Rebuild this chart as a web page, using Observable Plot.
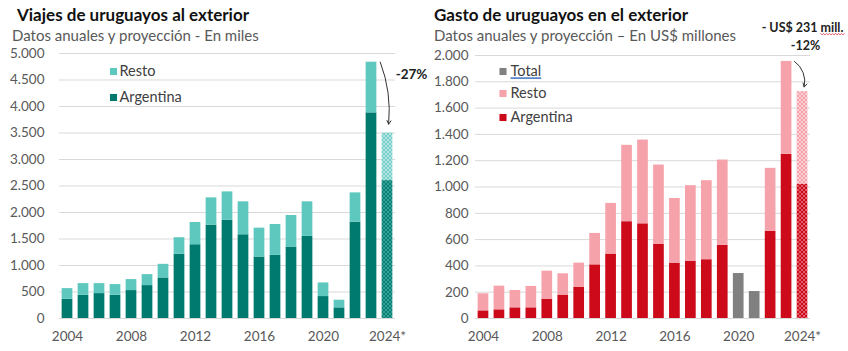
<!DOCTYPE html>
<html>
<head>
<meta charset="utf-8">
<script src="https://cdn.jsdelivr.net/npm/d3@7"></script>
<script src="https://cdn.jsdelivr.net/npm/@observablehq/plot@0.6"></script>
<style>
  body { margin: 0; background: #fff; font-family: Lato, sans-serif; }
  #wrap { position: relative; width: 848px; height: 351px; overflow: hidden; }
  .panel { position: absolute; top: 0; width: 424px; height: 351px; }
  .title { position: absolute; font-weight: bold; font-size: 17px; line-height: 17px; color: #111; white-space: nowrap; z-index: 2; }
  .sub { position: absolute; font-size: 15px; line-height: 16px; color: #595959; white-space: nowrap; z-index: 2; }
</style>
</head>
<body>
<svg width="0" height="0" style="position:absolute">
  <defs>
    <pattern id="patTealResto" width="4" height="4" patternUnits="userSpaceOnUse">
      <rect width="4" height="4" fill="#74d0c8"/>
      <path d="M0,0L4,4M4,0L0,4" stroke="#ffffff" stroke-opacity="0.55" stroke-width="0.8"/>
    </pattern>
    <pattern id="patTealArg" width="4" height="4" patternUnits="userSpaceOnUse">
      <rect width="4" height="4" fill="#0b7f73"/>
      <path d="M0,0L4,4M4,0L0,4" stroke="#5ec8bf" stroke-opacity="0.6" stroke-width="0.8"/>
    </pattern>
    <pattern id="patRedResto" width="4" height="4" patternUnits="userSpaceOnUse">
      <rect width="4" height="4" fill="#f6a2aa"/>
      <path d="M0,0L4,4M4,0L0,4" stroke="#ffffff" stroke-opacity="0.6" stroke-width="0.8"/>
    </pattern>
    <pattern id="patRedArg" width="4" height="4" patternUnits="userSpaceOnUse">
      <rect width="4" height="4" fill="#cc0a1a"/>
      <path d="M0,0L4,4M4,0L0,4" stroke="#f6a2aa" stroke-opacity="0.7" stroke-width="0.8"/>
    </pattern>
  </defs>
</svg>
<div id="wrap">
  <div class="panel" id="p1" style="left:0">
    <div class="title" style="left:17px;top:6px">Viajes de uruguayos al exterior</div>
    <div class="sub" style="left:12px;top:27px">Datos anuales y proyección - En miles</div>
  </div>
  <div class="panel" id="p2" style="left:424px">
    <div class="title" style="left:10px;top:6px">Gasto de uruguayos en el exterior</div>
    <div class="sub" style="left:10px;top:27px">Datos anuales y proyección – En US$ millones</div>
  </div>
</div>
<script>
// ---------- data ----------
const years = [2004, 2005, 2006, 2007, 2008, 2009, 2010, 2011, 2012, 2013, 2014,
               2015, 2016, 2017, 2018, 2019, 2020, 2021, 2022, 2023, 2024];
const projectedYear = 2024;

// Viajes (miles)
const viajesArgentina = [364, 439, 470, 439, 527, 621, 765, 1210, 1392, 1762, 1856,
                         1580, 1160, 1191, 1348, 1549, 414, 201, 1818, 3880, 2602];
const viajesTotal     = [564, 658, 658, 640, 734, 828, 1022, 1524, 1812, 2276, 2389,
                         2201, 1705, 1774, 1944, 2201, 671, 345, 2370, 4836, 3498];

// Gasto (US$ millones); 2020-2021 only total available
const gastoArgentina = [58, 66, 81, 81, 147, 178, 236, 408, 490, 736, 720,
                        563, 421, 436, 447, 556, null, null, 662, 1248, 1022];
const gastoTotal     = [188, 246, 213, 244, 360, 340, 421, 647, 875, 1317, 1357,
                        1167, 913, 1010, 1048, 1205, 342, 205, 1142, 1955, 1725];

const xTicks = [2004, 2008, 2012, 2016, 2020, 2024];
const xTickLabels = ["2004", "2008", "2012", "2016", "2020", "2024*"];
const yTicksViajes = [0, 500, 1000, 1500, 2000, 2500, 3000, 3500, 4000, 4500, 5000];
const yTicksGasto = [0, 200, 400, 600, 800, 1000, 1200, 1400, 1600, 1800, 2000];

const legendViajes = ["Resto", "Argentina"];
const legendGasto = ["Total", "Resto", "Argentina"];
const annotViajes = "-27%";
const annotGasto1 = "- US$ 231 mill.";
const annotGasto2 = "-12%";

// ---------- styling ----------
const colViajes = {Argentina: "#007a6e", Resto: "#5ec8bf"};
const patViajes = {Argentina: "url(#patTealArg)", Resto: "url(#patTealResto)"};
const colGasto = {Argentina: "#cc0a1a", Resto: "#f6a2aa", Total: "#808080"};
const patGasto = {Argentina: "url(#patRedArg)", Resto: "url(#patRedResto)", Total: "#808080"};

const fmt = d => d3.format(",")(d).replace(/,/g, ".");
const halfBar = 0.335;

function buildRows(arg, tot) {
  const rows = [];
  years.forEach((yr, i) => {
    const proj = yr === projectedYear;
    if (arg[i] == null) {
      rows.push({year: yr, s: "Total", y1: 0, y2: tot[i], proj});
    } else {
      rows.push({year: yr, s: "Argentina", y1: 0, y2: arg[i], proj});
      rows.push({year: yr, s: "Resto", y1: arg[i], y2: tot[i], proj});
    }
  });
  return rows;
}

const baseStyle = {fontFamily: "Lato, sans-serif", fontSize: "13.5px", color: "#595959", background: "transparent", overflow: "visible"};

function legendMarks(labels, colors, dxSq, dxTxt, dys) {
  const marks = [];
  labels.forEach((lab, i) => {
    marks.push(Plot.dot([lab], {frameAnchor: "top-left", dx: dxSq, dy: dys[i], symbol: "square", r: 4, fill: colors[lab], stroke: null}));
    marks.push(Plot.text([lab], {frameAnchor: "top-left", lineAnchor: "middle", dx: dxTxt, dy: dys[i], text: d => d, textAnchor: "start", fontSize: 14.5, fill: "#404040"}));
  });
  return marks;
}

// ---------- left chart ----------
const rowsV = buildRows(viajesArgentina, viajesTotal);
const iLast = years.indexOf(projectedYear);
const arrowV = [{x1: years[iLast - 1] + 0.55, y1: viajesTotal[iLast - 1], x2: years[iLast], y2: viajesTotal[iLast]}];

const chartV = Plot.plot({
  width: 424, height: 351,
  marginLeft: 59, marginRight: 29, marginTop: 53, marginBottom: 33,
  style: baseStyle,
  x: {domain: [2003.5, 2024.5]},
  y: {domain: [0, 5000]},
  color: {type: "identity"},
  marks: [
    Plot.gridY(yTicksViajes, {stroke: "#d9d9d9", strokeOpacity: 1}),
    Plot.axisY(yTicksViajes, {tickSize: 0, tickPadding: 15, tickFormat: fmt, label: null}),
    Plot.axisX(xTicks, {tickSize: 0, tickPadding: 13, tickFormat: d => xTickLabels[xTicks.indexOf(d)], label: null}),
    Plot.rect(rowsV, {x1: d => d.year - halfBar, x2: d => d.year + halfBar, y1: "y1", y2: "y2",
                      fill: d => d.proj ? patViajes[d.s] : colViajes[d.s]}),
    Plot.arrow(arrowV, {x1: "x1", y1: "y1", x2: "x2", y2: "y2", bend: 15, stroke: "#333", strokeWidth: 1, headLength: 6, insetEnd: 9}),
    Plot.text([annotViajes], {x: years[iLast], y: viajesTotal[iLast - 1], dx: 24, dy: 12, text: d => d, fontWeight: "bold", fontSize: 13.5, fill: "#222"}),
    ...legendMarks(legendViajes, colViajes, 54, 60, [18, 44])
  ]
});
document.getElementById("p1").appendChild(chartV);

// ---------- right chart ----------
const rowsG = buildRows(gastoArgentina, gastoTotal);
const arrowG = [{x1: years[iLast - 1] + 0.5, y1: gastoTotal[iLast - 1], x2: years[iLast], y2: gastoTotal[iLast]}];

const chartG = Plot.plot({
  width: 424, height: 351,
  marginLeft: 51, marginRight: 38, marginTop: 55, marginBottom: 33,
  style: baseStyle,
  x: {domain: [2003.5, 2024.5]},
  y: {domain: [0, 2000]},
  color: {type: "identity"},
  marks: [
    Plot.gridY(yTicksGasto, {stroke: "#d9d9d9", strokeOpacity: 1}),
    Plot.axisY(yTicksGasto, {tickSize: 0, tickPadding: 7, tickFormat: fmt, label: null}),
    Plot.axisX(xTicks, {tickSize: 0, tickPadding: 13, tickFormat: d => xTickLabels[xTicks.indexOf(d)], label: null}),
    Plot.rect(rowsG, {x1: d => d.year - halfBar, x2: d => d.year + halfBar, y1: "y1", y2: "y2",
                      fill: d => d.proj ? patGasto[d.s] : colGasto[d.s]}),
    Plot.arrow(arrowG, {x1: "x1", y1: "y1", x2: "x2", y2: "y2", bend: 40, stroke: "#333", strokeWidth: 1, headLength: 6, insetEnd: 5}),
    Plot.text([annotGasto1], {x: years[iLast], frameAnchor: "top", lineAnchor: "middle", dy: -28, text: d => d, fontWeight: "bold", fontSize: 12.5, fill: "#222"}),
    Plot.text([annotGasto2], {x: years[iLast], frameAnchor: "top", lineAnchor: "middle", dx: 3, dy: -10, text: d => d, fontWeight: "bold", fontSize: 12.5, fill: "#222"}),
    ...legendMarks(legendGasto, colGasto, 27.5, 35, [16, 38, 62])
  ]
});
document.getElementById("p2").appendChild(chartG);

// ---------- decorations: underline on "Total", wavy underline on "mill." ----------
function findText(svg, str) {
  return Array.from(svg.querySelectorAll("text")).find(e => e.textContent === str);
}
const NS = "http://www.w3.org/2000/svg";
(function () {
  const t = findText(chartG, "Total");
  if (t) {
    const b = t.getBBox();
    const ln = document.createElementNS(NS, "line");
    ln.setAttribute("x1", b.x); ln.setAttribute("x2", b.x + b.width);
    ln.setAttribute("y1", b.y + b.height - 1); ln.setAttribute("y2", b.y + b.height - 1);
    ln.setAttribute("stroke", "#5b86c9"); ln.setAttribute("stroke-width", "1.8");
    const tr = t.getAttribute("transform"); if (tr) ln.setAttribute("transform", tr);
    t.parentNode.appendChild(ln);
  }
  const m = findText(chartG, annotGasto1);
  if (m) {
    const s = annotGasto1.indexOf("mill.");
    const x0 = m.getStartPositionOfChar(s).x;
    const x1 = m.getEndPositionOfChar(annotGasto1.length - 1).x;
    const b = m.getBBox();
    const y = b.y + b.height - 1;
    let d = `M${x0},${y}`;
    for (let x = x0, k = 0; x < x1; x += 1.5, k++) d += `L${x + 1.5},${y + (k % 2 ? 0 : 1.3)}`;
    const p = document.createElementNS(NS, "path");
    p.setAttribute("d", d); p.setAttribute("fill", "none");
    p.setAttribute("stroke", "#e0484f"); p.setAttribute("stroke-width", "0.9");
    const tr = m.getAttribute("transform"); if (tr) p.setAttribute("transform", tr);
    m.parentNode.appendChild(p);
  }
})();
</script>
</body>
</html>
